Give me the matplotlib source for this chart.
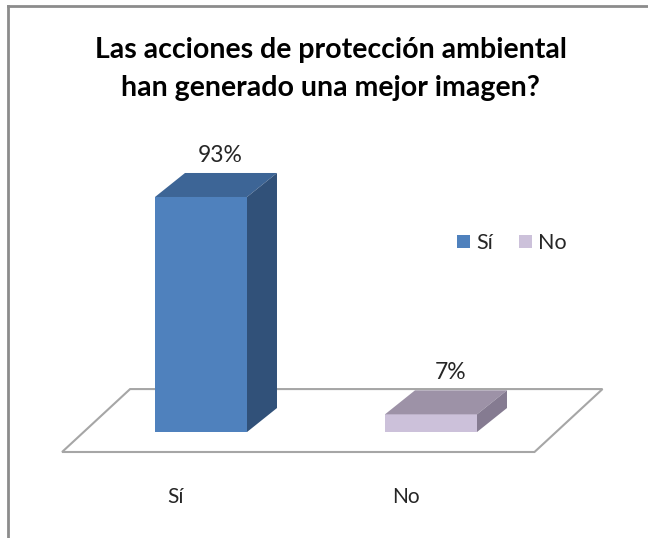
import matplotlib
matplotlib.use("Agg")
import matplotlib.pyplot as plt
from matplotlib.patches import Polygon, Patch
from matplotlib.lines import Line2D
from matplotlib import font_manager as fm

categories = ["Sí", "No"]
values = [93, 7]
value_labels = ["93%", "7%"]
title_lines = ["Las acciones de protección ambiental", "han generado una mejor imagen?"]

front_colors = ["#4F81BD", "#CCC1DA"]
top_colors = ["#3D6596", "#9D92A7"]
side_colors = ["#315179", "#857B91"]

avail = {f.name for f in fm.fontManager.ttflist}
font = "Lato" if "Lato" in avail else "DejaVu Sans"
plt.rcParams["font.family"] = [font, "DejaVu Sans"]

W, H = 648, 538
fig = plt.figure(figsize=(W / 100, H / 100), dpi=100)
fig.patch.set_facecolor("white")

ax = fig.add_axes([63 / W, 0.15, 506 / W, 0.5637])
ax.set_xlim(-0.6, 1.6)
ax.set_ylim(-10, 110)
ax.axis("off")

bar_w = 0.4
ddx, ddy = 0.1304, 9.5  # bar depth offset in data units

# floor parallelogram
fl_front_y, fl_back_y = -7.9, 17.0
fl_x0, fl_x1, fl_shift = -0.604, 1.45, 0.2957
floor = Polygon([(fl_x0, fl_front_y), (fl_x1, fl_front_y),
                 (fl_x1 + fl_shift, fl_back_y), (fl_x0 + fl_shift, fl_back_y)],
                closed=True, facecolor="white", edgecolor="#A6A6A6", lw=1.5,
                clip_on=False, zorder=1)
ax.add_patch(floor)

xs = list(range(len(categories)))
bars = ax.bar(xs, values, width=bar_w, color=front_colors, zorder=3, clip_on=False)
for i, (x, v) in enumerate(zip(xs, values)):
    l, r = x - bar_w / 2, x + bar_w / 2
    top = Polygon([(l, v), (r, v), (r + ddx, v + ddy), (l + ddx, v + ddy)],
                  closed=True, facecolor=top_colors[i], edgecolor="none", zorder=3, clip_on=False)
    side = Polygon([(r, 0), (r + ddx, ddy), (r + ddx, v + ddy), (r, v)],
                   closed=True, facecolor=side_colors[i], edgecolor="none", zorder=3, clip_on=False)
    ax.add_patch(top)
    ax.add_patch(side)
    ax.text(x + 0.085, v + ddy + 2.8, value_labels[i], ha="center", va="bottom",
            fontsize=16.5, color="#262626", zorder=4)
    ax.text(x - 0.11, -25.7, categories[i], ha="center", va="center",
            fontsize=15, color="#262626")

fig.text(0.51, 1 - 50 / H, title_lines[0], ha="center", va="center",
         fontsize=20.5, fontweight="bold", color="black")
fig.text(0.51, 1 - 88 / H, title_lines[1], ha="center", va="center",
         fontsize=20.5, fontweight="bold", color="black")

handles = [Patch(facecolor=c, edgecolor="none") for c in front_colors]
fig.legend(handles, categories, loc="center", bbox_to_anchor=(512 / W, 1 - 243 / H),
           ncol=2, frameon=False, fontsize=15.5, handlelength=0.6, handleheight=0.6,
           handletextpad=0.3, columnspacing=1.2, labelcolor="#262626")

# outer frame (top and left)
fig.add_artist(Line2D([7.5 / W, 7.5 / W], [0, 1 - 5.5 / H], transform=fig.transFigure,
                      color="#8C8C8C", lw=2))
fig.add_artist(Line2D([7.5 / W, 1], [1 - 5.5 / H, 1 - 5.5 / H], transform=fig.transFigure,
                      color="#8C8C8C", lw=2))

fig.savefig("out.png", dpi=100, facecolor="white")
